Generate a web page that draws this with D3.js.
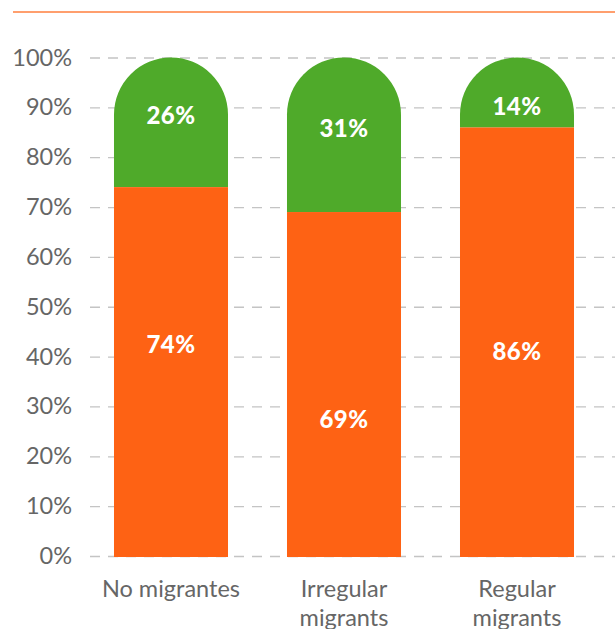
<!DOCTYPE html>
<html>
<head>
<meta charset="utf-8">
<script src="https://cdn.jsdelivr.net/npm/d3@7/dist/d3.min.js"></script>
<style>
  html, body { margin: 0; padding: 0; background: #fff; }
  svg { display: block; }
</style>
</head>
<body>
<svg id="chart" width="615" height="629"></svg>
<script>
// Share of each group, orange = main answer, green = remainder
const categories = ["No migrantes", "Irregular migrants", "Regular migrants"];
const orangeValues = [74, 69, 86];
const greenValues = [26, 31, 14];
const yTicks = [0, 10, 20, 30, 40, 50, 60, 70, 80, 90, 100];

const ORANGE = "#fe6214";
const GREEN = "#4faa2a";

const svg = d3.select("#chart");
const W = 615;

const x = d3.scaleBand()
  .domain(categories)
  .range([80, 608])
  .paddingInner(0.341)
  .paddingOuter(0.1965);

const y = d3.scaleLinear().domain([0, 100]).range([556, 57.5]);

// thin accent rule along the top
svg.append("line")
  .attr("x1", 13).attr("x2", W)
  .attr("y1", 12).attr("y2", 12)
  .attr("stroke", "#ff9f6e")
  .attr("stroke-width", 2);

// dashed gridlines with percentage labels
const yAxis = d3.axisLeft(y)
  .tickValues(yTicks)
  .tickSize(-(W - 90))
  .tickFormat(d => d + "%");

const gAxis = svg.append("g")
  .attr("transform", "translate(90,0)")
  .call(yAxis);
gAxis.select(".domain").remove();
gAxis.selectAll(".tick line")
  .attr("stroke", "#c4c4c4")
  .attr("stroke-width", 1.3)
  .attr("stroke-dasharray", "10,8");
gAxis.selectAll(".tick text")
  .attr("x", -18)
  .attr("fill", "#666")
  .attr("font-family", "Lato, sans-serif")
  .attr("font-size", 23.5);

const bw = x.bandwidth();
const r = bw / 2;

// orange base segment
svg.append("g").selectAll("rect")
  .data(categories)
  .join("rect")
  .attr("x", d => x(d))
  .attr("y", (d, i) => y(orangeValues[i]))
  .attr("width", bw)
  .attr("height", (d, i) => y(0) - y(orangeValues[i]) + 1)
  .attr("fill", ORANGE);

// green top segment with a rounded cap
svg.append("g").selectAll("path")
  .data(categories)
  .join("path")
  .attr("d", (d, i) => {
    const x0 = x(d), x1 = x0 + bw;
    const yb = y(orangeValues[i]);
    const yt = y(orangeValues[i] + greenValues[i]);
    const p = d3.path();
    p.moveTo(x0, yb);
    p.lineTo(x0, yt + r);
    p.arc(x0 + r, yt + r, r, Math.PI, 0);
    p.lineTo(x1, yb);
    p.closePath();
    return p.toString();
  })
  .attr("fill", GREEN);

// value labels, anchored in value units along each bar
const orangeLabelAt = [42.7, 27.5, 41.3];
const greenLabelAt = [88.5, 85.9, 90.3];

const labelStyle = sel => sel
  .attr("text-anchor", "middle")
  .attr("dominant-baseline", "central")
  .attr("fill", "#fff")
  .attr("font-family", "Lato, sans-serif")
  .attr("font-weight", 900)
  .attr("font-size", 24)
  .attr("letter-spacing", 0.5);

svg.append("g").selectAll("text")
  .data(categories)
  .join("text")
  .attr("x", d => x(d) + r)
  .attr("y", (d, i) => y(orangeLabelAt[i]))
  .text((d, i) => orangeValues[i] + "%")
  .call(labelStyle);

svg.append("g").selectAll("text")
  .data(categories)
  .join("text")
  .attr("x", d => x(d) + r)
  .attr("y", (d, i) => y(greenLabelAt[i]))
  .text((d, i) => greenValues[i] + "%")
  .call(labelStyle);

// category names, wrapped onto two lines where needed
const catLines = { "No migrantes": ["No migrantes"], "Irregular migrants": ["Irregular", "migrants"], "Regular migrants": ["Regular", "migrants"] };
const gCat = svg.append("g");
categories.forEach(c => {
  const t = gCat.append("text")
    .attr("x", x(c) + r)
    .attr("y", 597)
    .attr("text-anchor", "middle")
    .attr("fill", "#666")
    .attr("font-family", "Lato, sans-serif")
    .attr("font-size", 23.5);
  catLines[c].forEach((line, j) => {
    t.append("tspan").attr("x", x(c) + r).attr("dy", j ? 29 : 0).text(line);
  });
});
</script>
</body>
</html>
